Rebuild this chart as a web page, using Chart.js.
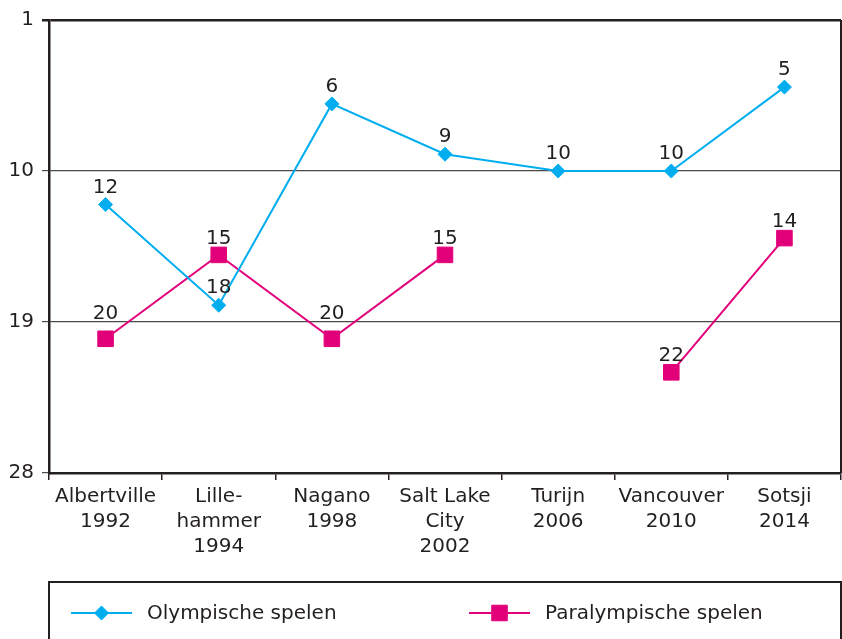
<!DOCTYPE html>
<html>
<head>
<meta charset="utf-8">
<script src="https://cdn.jsdelivr.net/npm/chart.js@4/dist/chart.umd.min.js"></script>
<style>
  body { margin: 0; background: #fff; }
  canvas { display: block; }
</style>
</head>
<body>
<canvas id="chart" width="842" height="639"></canvas>
<script>
// places (lower = better), reversed axis
const games = [
  ["Albertville", "1992"],
  ["Lille-", "hammer", "1994"],
  ["Nagano", "1998"],
  ["Salt Lake", "City", "2002"],
  ["Turijn", "2006"],
  ["Vancouver", "2010"],
  ["Sotsji", "2014"]
];
const olympic = [12, 18, 6, 9, 10, 10, 5];
const paralympic = [20, 15, 20, 15, null, 22, 14];
const yTicks = [1, 10, 19, 28];

const dark = "#231f20";
const fontName = "'DejaVu Sans', sans-serif";

const labelPlugin = {
  id: "pointLabels",
  afterDatasetsDraw(chart) {
    const ctx = chart.ctx;
    const yScale = chart.scales.y;
    const gridYs = yTicks.map(v => yScale.getPixelForValue(v));
    ctx.save();
    ctx.font = "20px " + fontName;
    ctx.fillStyle = dark;
    ctx.textAlign = "center";
    ctx.textBaseline = "alphabetic";
    chart.data.datasets.forEach((ds, i) => {
      const meta = chart.getDatasetMeta(i);
      meta.data.forEach((pt, j) => {
        const v = ds.data[j];
        if (v === null || v === undefined) return;
        let bottom = pt.y - ds.labelGap;
        let top = bottom - 15;
        gridYs.forEach(g => {
          if (g > top - 1 && g < bottom + 1) bottom = g - 3;
        });
        ctx.fillText(String(v), pt.x, bottom);
      });
    });
    ctx.restore();
  }
};

const framePlugin = {
  id: "frame",
  afterDraw(chart) {
    const ctx = chart.ctx;
    const a = chart.chartArea;
    ctx.save();
    ctx.strokeStyle = dark;
    ctx.lineWidth = 2;
    ctx.beginPath();
    ctx.moveTo(a.right, a.top);
    ctx.lineTo(a.right, a.bottom);
    ctx.stroke();

    // legend box
    const boxTop = 582;
    ctx.beginPath();
    ctx.rect(a.left, boxTop, a.right - a.left, 100);
    ctx.stroke();

    const items = [
      { x: 71, tx: 147 },
      { x: 469, tx: 545 }
    ];
    const ly = 613;
    ctx.font = "20px " + fontName;
    ctx.textBaseline = "middle";
    ctx.textAlign = "left";
    chart.data.datasets.forEach((ds, i) => {
      const it = items[i];
      ctx.strokeStyle = ds.borderColor;
      ctx.lineWidth = ds.borderWidth;
      ctx.beginPath();
      ctx.moveTo(it.x, ly);
      ctx.lineTo(it.x + 61, ly);
      ctx.stroke();
      ctx.fillStyle = ds.pointBackgroundColor;
      ctx.strokeStyle = ds.pointBorderColor;
      ctx.lineWidth = ds.pointBorderWidth;
      Chart.helpers.drawPoint(ctx, {
        pointStyle: ds.pointStyle,
        radius: ds.pointRadius,
        rotation: 0,
        borderWidth: ds.pointBorderWidth
      }, it.x + 30.5, ly);
      ctx.fillStyle = dark;
      ctx.fillText(ds.label, it.tx, ly + 1);
    });
    ctx.restore();
  }
};

new Chart(document.getElementById("chart"), {
  type: "line",
  data: {
    labels: games,
    datasets: [
      {
        label: "Olympische spelen",
        data: olympic,
        borderColor: "#00aeef",
        backgroundColor: "#00aeef",
        borderWidth: 2,
        pointStyle: "rectRot",
        pointRadius: 7,
        pointBackgroundColor: "#00aeef",
        pointBorderColor: "#00aeef",
        pointBorderWidth: 1,
        tension: 0,
        labelGap: 12
      },
      {
        label: "Paralympische spelen",
        data: paralympic,
        borderColor: "#e2007a",
        backgroundColor: "#e2007a",
        borderWidth: 2,
        pointStyle: "rect",
        pointRadius: 11,
        pointBackgroundColor: "#e2007a",
        pointBorderColor: "#e2007a",
        pointBorderWidth: 1,
        tension: 0,
        spanGaps: false,
        labelGap: 11
      }
    ]
  },
  options: {
    responsive: false,
    animation: false,
    events: [],
    layout: { autoPadding: false, padding: { top: 20, right: 1, left: 0, bottom: 0 } },
    plugins: {
      legend: { display: false },
      tooltip: { enabled: false }
    },
    scales: {
      x: {
        offset: true,
        grid: {
          offset: true,
          drawOnChartArea: false,
          color: dark,
          lineWidth: 1.5,
          tickLength: 7
        },
        border: { color: dark, width: 2.5 },
        ticks: {
          color: dark,
          font: { family: fontName, size: 20, lineHeight: 1.25 },
          padding: 4,
          maxRotation: 0,
          autoSkip: false
        },
        afterFit(scale) {
          scale.height = 166;
          scale.paddingLeft = 0;
          scale.paddingRight = 0;
        }
      },
      y: {
        reverse: true,
        min: 1,
        max: 28,
        afterBuildTicks(scale) {
          scale.ticks = yTicks.map(v => ({ value: v }));
        },
        grid: {
          color: ctx => ctx.tick && ctx.tick.value === 1 ? dark : "#4a4a4a",
          lineWidth: ctx => ctx.tick && ctx.tick.value === 1 ? 2.5 : 1.2,
          tickLength: 7
        },
        border: { color: dark, width: 2.5 },
        ticks: {
          color: dark,
          font: { family: fontName, size: 20 },
          padding: 8
        },
        afterFit(scale) {
          scale.width = 49;
          scale.paddingTop = 0;
          scale.paddingBottom = 0;
        }
      }
    }
  },
  plugins: [labelPlugin, framePlugin]
});
</script>
</body>
</html>
